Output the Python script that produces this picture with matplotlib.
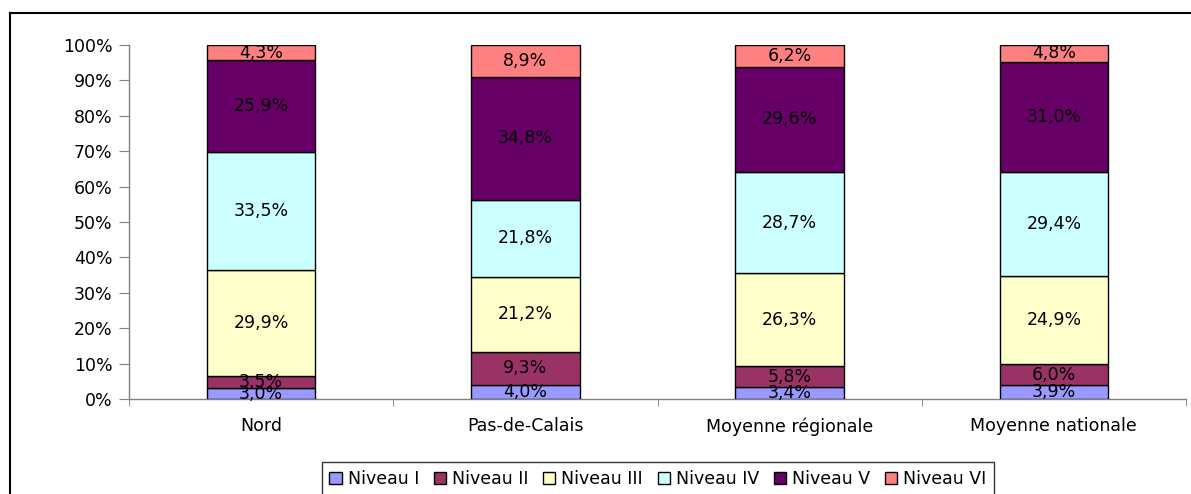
import matplotlib.pyplot as plt
import numpy as np
from matplotlib.lines import Line2D

plt.rcParams['font.family'] = ['DejaVu Sans']

categories = ["Nord", "Pas-de-Calais", "Moyenne régionale", "Moyenne nationale"]
levels = ["Niveau I", "Niveau II", "Niveau III", "Niveau IV", "Niveau V", "Niveau VI"]
niveau_1 = [3.0, 4.0, 3.4, 3.9]
niveau_2 = [3.5, 9.3, 5.8, 6.0]
niveau_3 = [29.9, 21.2, 26.3, 24.9]
niveau_4 = [33.5, 21.8, 28.7, 29.4]
niveau_5 = [25.9, 34.8, 29.6, 31.0]
niveau_6 = [4.3, 8.9, 6.2, 4.8]
colors = ["#9999FF", "#993366", "#FFFFCC", "#CCFFFF", "#660066", "#FF8080"]

series = np.array([niveau_1, niveau_2, niveau_3, niveau_4, niveau_5, niveau_6])
shares = series / series.sum(axis=0) * 100

FS = 12.5

fig = plt.figure(figsize=(11.91, 4.94), dpi=100)
ax = fig.add_axes([129 / 1191, 1 - 399 / 494, 1057 / 1191, 354 / 494])

x = np.arange(len(categories))
bottom = np.zeros(len(categories))
for k, name in enumerate(levels):
    ax.bar(x, shares[k], bottom=bottom, width=0.41, color=colors[k],
           edgecolor="black", linewidth=1, label=name, zorder=3)
    for i in range(len(categories)):
        ax.text(x[i], bottom[i] + shares[k][i] / 2,
                f"{series[k][i]:.1f}%".replace(".", ","),
                ha="center", va="center", fontsize=FS, color="black", zorder=4)
    bottom += shares[k]

ax.set_xlim(-0.5, len(categories) - 0.5)
ax.set_ylim(0, 100)
ax.set_yticks(np.arange(0, 101, 10))
ax.set_yticklabels([f"{v}%" for v in range(0, 101, 10)], fontsize=FS)
ax.set_xticks(x)
ax.set_xticklabels(categories, fontsize=FS)
ax.set_xticks(np.arange(-0.5, len(categories), 1), minor=True)
ax.tick_params(axis="x", which="major", length=0, pad=13)
ax.tick_params(axis="x", which="minor", length=5, direction="out", color="#808080")
ax.tick_params(axis="y", length=7, direction="out", color="#808080", pad=5)

for side in ["top", "right"]:
    ax.spines[side].set_visible(False)
for side in ["left", "bottom"]:
    ax.spines[side].set_color("#808080")
    ax.spines[side].set_linewidth(1)

leg = fig.legend(loc="upper center", bbox_to_anchor=(658 / 1191, 1 - 462 / 494),
                 ncol=6, fontsize=FS, frameon=True, fancybox=False,
                 handlelength=0.7, handleheight=0.7, handletextpad=0.35,
                 columnspacing=0.85, borderpad=0.45, borderaxespad=0)
leg.get_frame().set_edgecolor("black")
leg.get_frame().set_linewidth(1)

# outer chart border (cut off at right and bottom)
top = 1 - 13 / 494
left = 10 / 1191
fig.add_artist(Line2D([left, 1], [top, top], color="black", linewidth=1.5,
                      transform=fig.transFigure))
fig.add_artist(Line2D([left, left], [0, top], color="black", linewidth=1.5,
                      transform=fig.transFigure))

fig.savefig("out.png", dpi=100)
